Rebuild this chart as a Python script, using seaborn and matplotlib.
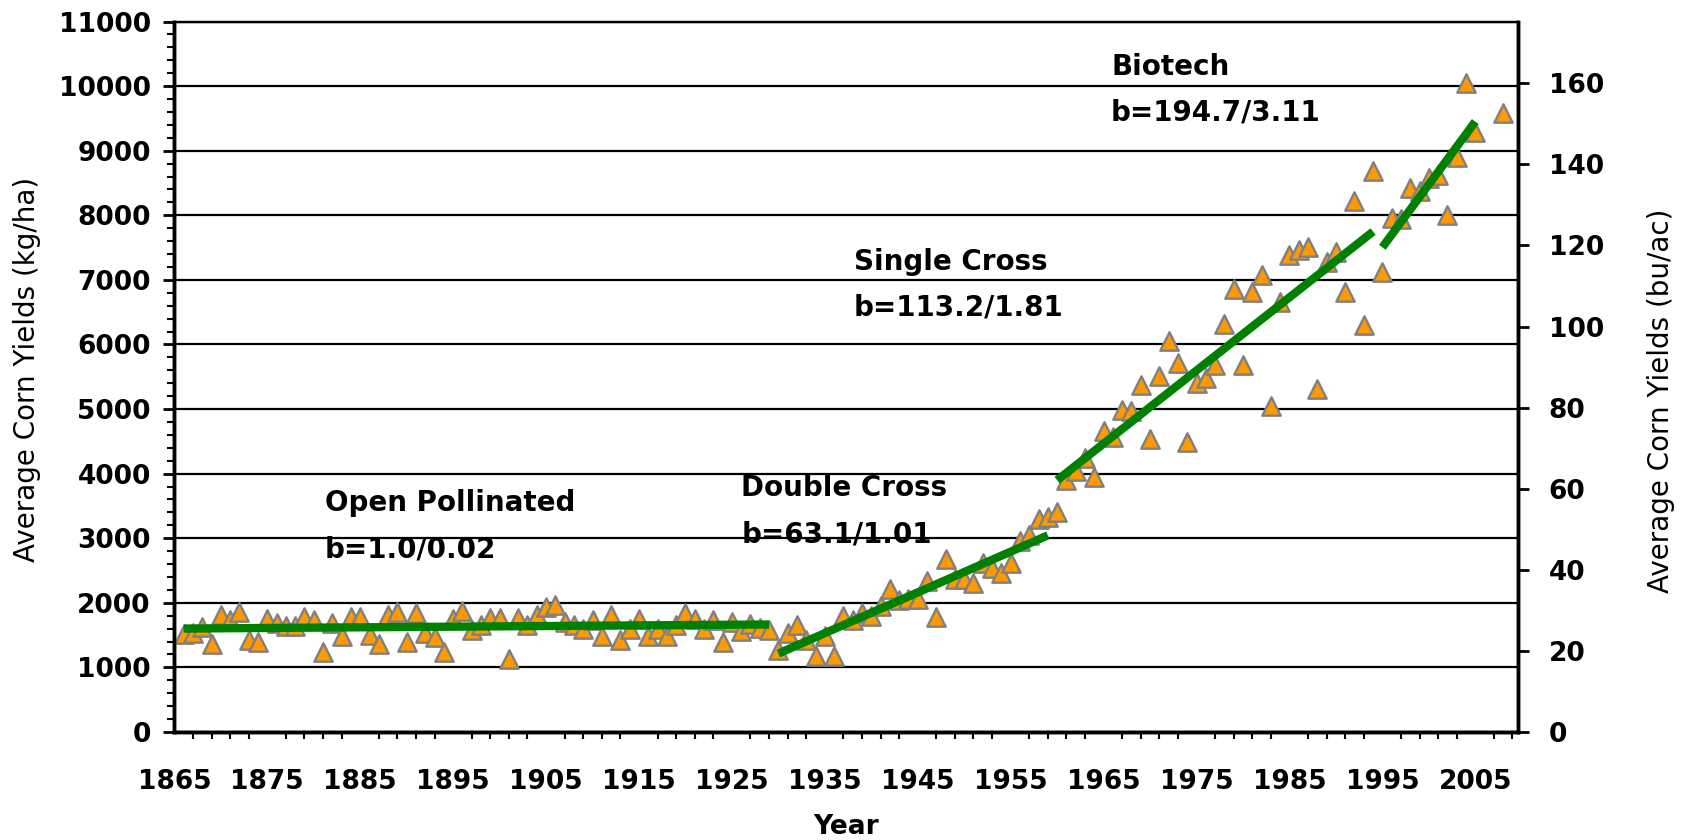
import numpy as np
import pandas as pd
import matplotlib
matplotlib.use("Agg")
import matplotlib.pyplot as plt
import seaborn as sns
from matplotlib.ticker import FixedLocator, MultipleLocator

# annual average corn yield, kg/ha
years = list(range(1866, 2006)) + [2008]
yields_kg = [
    1510, 1525, 1625, 1355, 1810, 1735, 1850, 1430, 1390, 1745,   # 1866-1875
    1685, 1635, 1635, 1785, 1735, 1245, 1685, 1490, 1785, 1785,   # 1876-1885
    1495, 1355, 1810, 1850, 1395, 1840, 1535, 1465, 1245, 1745,   # 1886-1895
    1875, 1585, 1660, 1760, 1760, 1135, 1760, 1660, 1810, 1930,   # 1896-1905
    1965, 1695, 1660, 1595, 1735, 1490, 1810, 1430, 1595, 1745,   # 1906-1915
    1490, 1595, 1490, 1660, 1840, 1745, 1595, 1735, 1390, 1695,   # 1916-1925
    1570, 1670, 1610, 1585, 1270, 1535, 1650, 1430, 1170, 1480,   # 1926-1935
    1170, 1790, 1730, 1840, 1790, 1950, 2215, 2040, 2060, 2065,   # 1936-1945
    2335, 1780, 2680, 2370, 2370, 2305, 2615, 2540, 2460, 2615,   # 1946-1955
    2950, 3045, 3290, 3335, 3410, 3905, 4040, 4245, 3950, 4655,   # 1956-1965
    4565, 4985, 4975, 5365, 4530, 5515, 6060, 5705, 4490, 5410,   # 1966-1975
    5480, 5680, 6320, 6865, 5675, 6815, 7075, 5050, 6660, 7385,   # 1976-1985
    7460, 7510, 5310, 7280, 7430, 6810, 8225, 6295, 8680, 7120,   # 1986-1995
    7950, 7945, 8420, 8370, 8575, 8625, 8005, 8900, 10050, 9290,  # 1996-2005
    9580,                                                         # 2008
]

era_names = ["Open Pollinated", "Double Cross", "Single Cross", "Biotech"]
era_start = [1866, 1930, 1960, 1995]
era_end = [1929, 1959, 1994, 2005]
era_slope_kg = [1.0, 63.1, 113.2, 194.7]
era_slope_bu = [0.02, 1.01, 1.81, 3.11]

KG_PER_BU = 62.77

df = pd.DataFrame({"year": years, "kg": yields_kg})

sns.set_style("white")
plt.rcParams["font.family"] = ["DejaVu Sans"]
plt.rcParams.update({"text.color": "black", "axes.labelcolor": "black",
                     "xtick.color": "black", "ytick.color": "black"})

fig, ax = plt.subplots(figsize=(16.88, 8.4), dpi=100)
fig.subplots_adjust(left=0.1033, right=0.8993, top=0.9744, bottom=0.1286)

ax.set_xlim(1865, 2009.6)
ax.set_ylim(0, 11000)
ax.yaxis.grid(True, color="black", lw=1.6)
ax.set_axisbelow(True)

sns.scatterplot(data=df, x="year", y="kg", marker="^", s=175,
                color="#FF9900", edgecolor="#808080", linewidth=1.7,
                ax=ax, zorder=3, legend=False)

# era trend lines with the slopes given in the labels
for start, end, slope in zip(era_start, era_end, era_slope_kg):
    seg = df[(df.year >= start) & (df.year <= end)]
    intercept = seg.kg.mean() - slope * seg.year.mean()
    fit = pd.DataFrame({"year": [start, end]})
    fit["kg"] = intercept + slope * fit.year
    sns.lineplot(data=fit, x="year", y="kg", color="#008000", lw=6,
                 ax=ax, zorder=4, solid_capstyle="butt")

# era labels (x = left edge in years, y = name line / slope line)
label_pos = [(1881.2, 3550, 2830), (1926.0, 3780, 3050),
             (1938.1, 7280, 6570), (1965.8, 10300, 9585)]
for name, kg, bu, (lx, ly1, ly2) in zip(era_names, era_slope_kg, era_slope_bu, label_pos):
    ax.text(lx, ly1, name, fontsize=20, fontweight="bold", ha="left", va="center")
    ax.text(lx, ly2, f"b={kg:.1f}/{bu:.2f}", fontsize=20, fontweight="bold",
            ha="left", va="center")

# left axis ticks
ax.yaxis.set_major_locator(MultipleLocator(1000))
ax.yaxis.set_minor_locator(MultipleLocator(200))
ax.set_xticks(range(1865, 2006, 10))
ax.xaxis.set_minor_locator(FixedLocator(range(1867, 2010, 2)))
ax.tick_params(axis="y", which="major", direction="out", length=8, width=2,
               pad=9, labelsize=19)
ax.tick_params(axis="y", which="minor", direction="out", length=5, width=1.5, left=True)
ax.tick_params(axis="x", which="major", direction="out", length=8, width=2,
               pad=19, labelsize=19)
ax.tick_params(axis="x", which="minor", direction="out", length=5, width=1.5, bottom=True)
for lab in ax.get_xticklabels() + ax.get_yticklabels():
    lab.set_fontweight("bold")

ax.set_xlabel("Year", fontsize=19, fontweight="bold")
ax.xaxis.set_label_coords(0.5, -0.116)
ax.set_ylabel("Average Corn Yields (kg/ha)", fontsize=20)
ax.yaxis.set_label_coords(-0.099, 0.51)

# right axis in bu/ac
ax2 = ax.twinx()
ax2.set_ylim(0, 11000 / KG_PER_BU)
ax2.set_yticks(range(0, 161, 20))
ax2.tick_params(axis="y", which="major", direction="out", length=8, width=2,
                pad=14, labelsize=19)
for lab in ax2.get_yticklabels():
    lab.set_fontweight("bold")
ax2.set_ylabel("Average Corn Yields (bu/ac)", fontsize=20)
ax2.yaxis.set_label_coords(1.096, 0.466)
ax2.grid(False)

for a in (ax, ax2):
    for side in ("left", "right", "bottom"):
        a.spines[side].set_color("black")
        a.spines[side].set_linewidth(2.5)
    a.spines["top"].set_color("black")
    a.spines["top"].set_linewidth(1.6)

fig.savefig("out.png", dpi=100)
